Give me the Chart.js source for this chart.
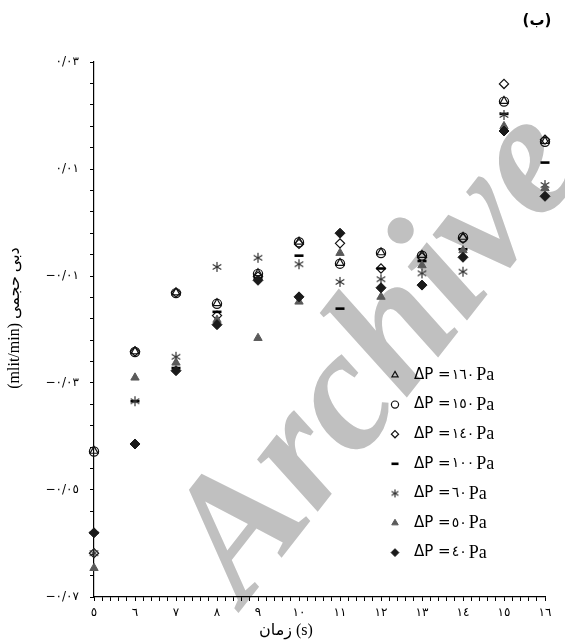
<!DOCTYPE html>
<html>
<head>
<meta charset="utf-8">
<script src="https://cdn.jsdelivr.net/npm/chart.js"></script>
<style>
html,body{margin:0;padding:0;background:#fff;}
#wrap{width:565px;height:644px;position:relative;}
</style>
</head>
<body>
<div id="wrap"><canvas id="c" width="565" height="644"></canvas></div>
<script>
// ---- data ----
const xValues = [5, 6, 7, 8, 9, 10, 11, 12, 13, 14, 15, 16];
const xTickLabels = ['٥','٦','٧','٨','٩','١٠','١١','١٢','١٣','١٤','١٥','١٦'];
const yTickValues = [-0.07, -0.05, -0.03, -0.01, 0.01, 0.03];
const yTickLabels = ['−٠/٠٧', '−٠/٠٥', '−٠/٠٣', '−٠/٠١', '٠/٠١', '٠/٠٣'];
const seriesNames = ['ΔP =١٦٠Pa','ΔP =١٥٠Pa','ΔP =١٤٠Pa','ΔP =١٠٠Pa','ΔP =٦٠Pa','ΔP =٥٠Pa','ΔP =٤٠Pa'];
const dp160 = [-0.0427, -0.0241, -0.0131, -0.0151, -0.0095, -0.0036, -0.0076, -0.0056, -0.0061, -0.0027, 0.0227, 0.0152];
const dp150 = [-0.0428, -0.0242, -0.0132, -0.0152, -0.0096, -0.0037, -0.0077, -0.0057, -0.0062, -0.0028, 0.0226, 0.0151];
const dp140 = [-0.0618, -0.0241, -0.0131, -0.0174, -0.0101, -0.0040, -0.0039, -0.0086, -0.0065, -0.0030, 0.0259, 0.0155];
const dp100 = [-0.0580, -0.0334, -0.0272, -0.0167, -0.0104, -0.0062, -0.0161, -0.0086, -0.0072, -0.0050, 0.0203, 0.0112];
const dp60  = [-0.0618, -0.0334, -0.0251, -0.0083, -0.0066, -0.0078, -0.0111, -0.0106, -0.0095, -0.0092, 0.0201, 0.0070];
const dp50  = [-0.0646, -0.0290, -0.0262, -0.0182, -0.0216, -0.0148, -0.0057, -0.0139, -0.0080, -0.0052, 0.0180, 0.0064];
const dp40  = [-0.0580, -0.0414, -0.0277, -0.0191, -0.0108, -0.0139, -0.0020, -0.0122, -0.0117, -0.0065, 0.0171, 0.0049];

// ---- custom star marker (6 arms) ----
function makeStar(color, r){
  const n = Math.ceil(r*2 + 2);
  const cv = document.createElement('canvas');
  cv.width = n; cv.height = n;
  const g = cv.getContext('2d');
  g.strokeStyle = color; g.lineWidth = 1.2;
  const cx = n/2, cy = n/2;
  [90, 30, 150].forEach(a => {
    const rad = a*Math.PI/180;
    g.beginPath();
    g.moveTo(cx - r*Math.cos(rad), cy - r*Math.sin(rad));
    g.lineTo(cx + r*Math.cos(rad), cy + r*Math.sin(rad));
    g.stroke();
  });
  return cv;
}
const starImg = makeStar('#333', 5);
const starImgSmall = makeStar('#333', 4);

const styles = [
  {pointStyle:'triangle', radius:4.6, borderColor:'#111', backgroundColor:'rgba(0,0,0,0)', borderWidth:1.2},
  {pointStyle:'circle',   radius:4.6, borderColor:'#111', backgroundColor:'rgba(0,0,0,0)', borderWidth:1.2},
  {pointStyle:'rectRot',  radius:4.6, borderColor:'#111', backgroundColor:'rgba(0,0,0,0)', borderWidth:1.2},
  {pointStyle:'line',     radius:4.5, borderColor:'#000', backgroundColor:'#000', borderWidth:2.6},
  {pointStyle:starImg,    radius:5,   borderColor:'#333', backgroundColor:'#333', borderWidth:1},
  {pointStyle:'triangle', radius:4.8, borderColor:'#5a5a5a', backgroundColor:'#5a5a5a', borderWidth:1},
  {pointStyle:'rectRot',  radius:5,   borderColor:'#1a1a1a', backgroundColor:'#1a1a1a', borderWidth:1}
];
const allSeries = [dp160, dp150, dp140, dp100, dp60, dp50, dp40];

const datasets = allSeries.map((vals, i) => ({
  label: seriesNames[i],
  data: xValues.map((x, k) => ({x: x, y: vals[k]})),
  showLine: false,
  clip: false,
  pointStyle: styles[i].pointStyle,
  pointRadius: styles[i].radius,
  pointHoverRadius: styles[i].radius,
  pointBorderColor: styles[i].borderColor,
  pointBackgroundColor: styles[i].backgroundColor,
  pointBorderWidth: styles[i].borderWidth,
  order: 7 - i
}));

function drawMarker(ctx, st, x, y){
  if (Chart.helpers && Chart.helpers.drawPoint) {
    ctx.save();
    ctx.strokeStyle = st.borderColor;
    ctx.fillStyle = st.backgroundColor;
    ctx.lineWidth = st.borderWidth;
    const ps = (st.pointStyle === starImg) ? starImgSmall : st.pointStyle;
    Chart.helpers.drawPoint(ctx, {pointStyle: ps, radius: st.radius * 0.78, borderWidth: st.borderWidth, rotation: 0}, x, y);
    ctx.restore();
  }
}

const decor = {
  id: 'decor',
  beforeDraw(chart){
    const ctx = chart.ctx;
    ctx.save();
    ctx.fillStyle = '#fff';
    ctx.fillRect(0, 0, chart.width, chart.height);
    // watermark
    ctx.translate(244, 606);
    ctx.rotate(-52 * Math.PI / 180);
    ctx.font = 'italic bold 174px "Liberation Serif"';
    ctx.fillStyle = '#c0c0c0';
    ctx.textBaseline = 'alphabetic';
    ctx.fillText('Archive', 0, 0);
    ctx.restore();
  },
  afterDraw(chart){
    const ctx = chart.ctx;
    ctx.save();
    // panel label
    ctx.fillStyle = '#000';
    ctx.font = 'bold 15px "DejaVu Sans"';
    ctx.textAlign = 'center';
    ctx.textBaseline = 'middle';
    ctx.fillText('(ب)', 537, 21);
    // x axis title
    ctx.font = '16px "Liberation Serif", "DejaVu Sans"';
    ctx.direction = 'ltr';
    ctx.fillText('زمان (s)', 286, 631);
    // y axis title
    ctx.save();
    ctx.translate(15, 318);
    ctx.rotate(-Math.PI/2);
    ctx.fillText('(mlit/min) دبی حجمی', 0, 0);
    ctx.restore();
    // legend
    const ly0 = 375, ldy = 29.6;
    seriesNames.forEach((name, i) => {
      const y = ly0 + i*ldy;
      drawMarker(ctx, styles[i], 395, y);
      const m = name.match(/^(ΔP =)([٠-٩]+)(Pa)$/);
      let x = 414;
      ctx.textAlign = 'left';
      ctx.textBaseline = 'middle';
      ctx.fillStyle = '#000';
      ctx.font = '15px "DejaVu Sans"';
      ctx.fillText(m[1], x, y); x += ctx.measureText(m[1]).width + 1;
      ctx.font = '14px "DejaVu Sans"';
      ctx.fillText(m[2], x, y); x += ctx.measureText(m[2]).width + 2;
      ctx.font = '18px "Liberation Serif"';
      ctx.fillText(m[3], x, y + 0.5);
    });
    ctx.restore();
  }
};

const xAllTicks = [];
for (let i = 25; i <= 80; i++) xAllTicks.push(i / 5);
const yAllTicks = [];
for (let i = -175; i <= 75; i += 10) yAllTicks.push(i / 2500);

new Chart(document.getElementById('c'), {
  type: 'scatter',
  data: { datasets },
  options: {
    responsive: false,
    animation: false,
    events: [],
    layout: { padding: { left: 0, right: 20, top: 62, bottom: 0 } },
    plugins: { legend: { display: false }, tooltip: { enabled: false }, title: { display: false } },
    scales: {
      x: {
        type: 'linear', min: 5, max: 16,
        afterFit(s){ s.height = 47; },
        afterBuildTicks(s){ s.ticks = xAllTicks.map(v => ({value: v})); },
        border: { display: true, color: '#000', width: 1.2 },
        grid: { display: true, drawOnChartArea: false, drawTicks: true, tickLength: 4, color: '#000', lineWidth: 1 },
        ticks: {
          autoSkip: false, maxRotation: 0, padding: 5, color: '#000',
          font: { family: '"DejaVu Sans"', size: 12 },
          callback(v){
            const r = Math.round(v);
            return Math.abs(v - r) < 1e-6 ? xTickLabels[r - 5] : '';
          }
        }
      },
      y: {
        type: 'linear', min: -0.07, max: 0.03,
        afterFit(s){ s.width = 94; },
        afterBuildTicks(s){ s.ticks = yAllTicks.map(v => ({value: v})); },
        border: { display: true, color: '#000', width: 1.2 },
        grid: { display: true, drawOnChartArea: false, drawTicks: true, tickLength: 4, color: '#000', lineWidth: 1 },
        ticks: {
          autoSkip: false, padding: 11, color: '#000',
          font: { family: '"DejaVu Sans"', size: 12 },
          callback(v){
            for (let k = 0; k < yTickValues.length; k++) {
              if (Math.abs(v - yTickValues[k]) < 1e-7) return yTickLabels[k];
            }
            return '';
          }
        }
      }
    }
  },
  plugins: [decor]
});
</script>
</body>
</html>
